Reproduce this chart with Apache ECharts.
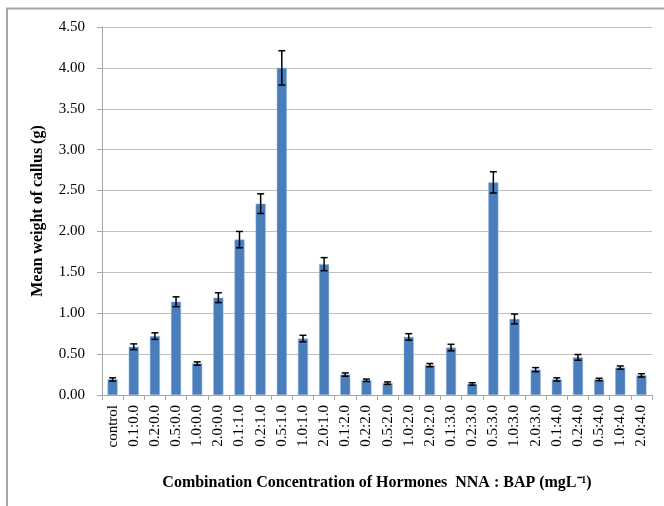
<!DOCTYPE html>
<html><head><meta charset="utf-8">
<script src="https://cdn.jsdelivr.net/npm/echarts@6/dist/echarts.min.js"></script>
<style>html,body{margin:0;padding:0;background:#fff}#c{width:664px;height:506px}</style>
</head><body><div id="c"></div>
<script>
var categories = ['control','0.1:0.0','0.2:0.0','0.5:0.0','1.0:0.0','2.0:0.0','0.1:1.0','0.2:1.0','0.5:1.0','1.0:1.0','2.0:1.0','0.1:2.0','0.2:2.0','0.5:2.0','1.0:2.0','2.0:2.0','0.1:3.0','0.2:3.0','0.5:3.0','1.0:3.0','2.0:3.0','0.1:4.0','0.2:4.0','0.5:4.0','1.0:4.0','2.0:4.0'];
var means = [0.19,0.59,0.72,1.14,0.385,1.19,1.90,2.34,4.00,0.69,1.60,0.25,0.18,0.145,0.71,0.365,0.58,0.135,2.60,0.93,0.31,0.19,0.46,0.19,0.335,0.24];
var errors = [0.02,0.035,0.04,0.06,0.02,0.06,0.10,0.12,0.21,0.04,0.08,0.02,0.015,0.015,0.04,0.02,0.04,0.015,0.13,0.06,0.025,0.02,0.035,0.015,0.02,0.02];
var yTicks = [0,0.5,1,1.5,2,2.5,3,3.5,4,4.5];

var chart = echarts.init(document.getElementById('c'), null, {renderer:'canvas'});
var serif = 'Liberation Serif, Times New Roman, serif';
chart.setOption({
  animation:false,
  backgroundColor:'#fff',
  graphic:[
    {type:'line',shape:{x1:6,y1:8.5,x2:664,y2:8.5},style:{stroke:'#a6a6a6',lineWidth:2}},
    {type:'line',shape:{x1:7,y1:8,x2:7,y2:506},style:{stroke:'#a6a6a6',lineWidth:2}}
  ],
  grid:{left:102,right:12,top:27,bottom:111},
  xAxis:{
    type:'category',data:categories,
    axisLine:{lineStyle:{color:'#a6a6a6'}},
    axisTick:{show:true,length:5,lineStyle:{color:'#a6a6a6'}},
    axisLabel:{rotate:90,interval:0,fontFamily:serif,fontSize:15,color:'#000',margin:10},
    name:'Combination Concentration of Hormones  NNA : BAP (mgL\u207B\u00B9)',
    nameLocation:'middle',nameGap:80,
    nameTextStyle:{fontFamily:serif,fontSize:16,fontWeight:'bold',color:'#000'}
  },
  yAxis:{
    type:'value',min:0,max:4.5,interval:0.5,
    axisLine:{show:true,lineStyle:{color:'#a6a6a6'}},
    axisTick:{show:true,length:5,lineStyle:{color:'#a6a6a6'}},
    splitLine:{lineStyle:{color:'#c0c0c0',width:1}},
    axisLabel:{fontFamily:serif,fontSize:15,color:'#000',margin:17,
      formatter:function(v){return v.toFixed(2);}},
    name:'Mean weight of callus (g)',nameLocation:'middle',nameGap:56,
    nameTextStyle:{fontFamily:serif,fontSize:16,fontWeight:'bold',color:'#000'}
  },
  series:[
    {type:'bar',data:means,barWidth:10,itemStyle:{color:'#4a7ebb',borderColor:'#8fb0dc',borderWidth:0.5}},
    {type:'custom',
     data:means.map(function(m,i){return [i,m-errors[i],m+errors[i]];}),
     renderItem:function(params,api){
       var x=api.value(0);
       var lo=api.coord([x,api.value(1)]);
       var hi=api.coord([x,api.value(2)]);
       var w=3.5;
       var st={stroke:'#000',lineWidth:1.5};
       return {type:'group',children:[
         {type:'line',shape:{x1:hi[0],y1:hi[1],x2:lo[0],y2:lo[1]},style:st},
         {type:'line',shape:{x1:hi[0]-w,y1:hi[1],x2:hi[0]+w,y2:hi[1]},style:st},
         {type:'line',shape:{x1:lo[0]-w,y1:lo[1],x2:lo[0]+w,y2:lo[1]},style:st}
       ]};
     },z:10}
  ]
});
</script></body></html>
